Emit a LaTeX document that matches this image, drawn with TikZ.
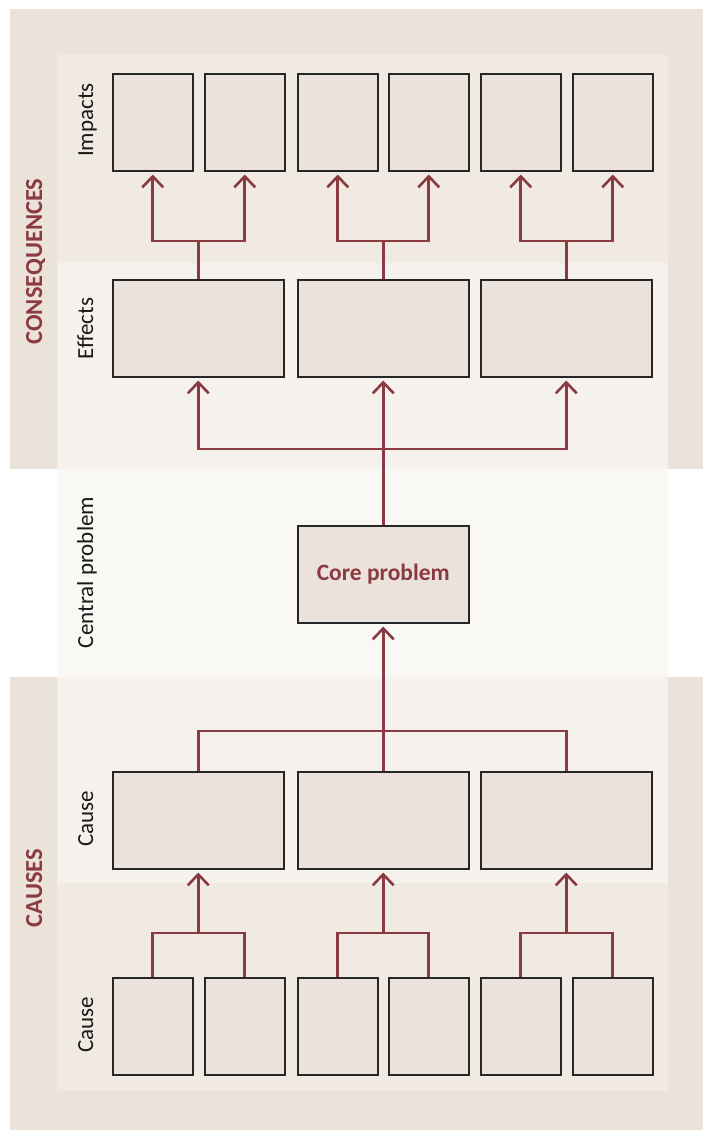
\documentclass[tikz,border=0pt]{standalone}
\usepackage{fontspec}
\setmainfont{Carlito}
\usetikzlibrary{arrows.meta}
\definecolor{bandout}{HTML}{EBE3DA}
\definecolor{bandA}{HTML}{F1EAE2}
\definecolor{bandB}{HTML}{F5F1EC}
\definecolor{bandC}{HTML}{F9F8F5}
\definecolor{boxfill}{HTML}{EBE3DB}
\definecolor{wine}{HTML}{8B3A42}
\begin{document}
\begin{tikzpicture}[x=1pt,y=-1pt,
  cell/.style={draw=black!85,line width=1.5pt,fill=boxfill,inner sep=0pt,anchor=north west},
  narrow/.style={cell,minimum width=80pt,minimum height=97pt},
  wide/.style={cell,minimum width=171pt,minimum height=97pt},
  conn/.style={draw=wine,line width=2.6pt},
  arr/.style={conn,-{Straight Barb[length=11pt,width=21pt,line width=2.6pt]},shorten >=3pt},
  rowlabel/.style={rotate=90,anchor=base,font=\fontsize{23}{27}\selectfont,text=black!90},
  grouplabel/.style={rotate=90,anchor=base,font=\bfseries\fontsize{24.5}{29}\selectfont,text=wine}]
% page
\fill[white] (0,0) rectangle (703,1130);
\useasboundingbox (0,0) rectangle (703,1130);
% background bands
\fill[bandout] (10,9) rectangle (703,469);
\fill[bandout] (10,677) rectangle (703,1130);
\fill[bandA] (57,55) rectangle (668,263);
\fill[bandB] (57,263) rectangle (668,469);
\fill[bandC] (57,469) rectangle (668,677);
\fill[bandB] (57,677) rectangle (668,883);
\fill[bandA] (57,883) rectangle (668,1091);
% group and row labels
\node[grouplabel] (gcons) at (42,261.5) {CONSEQUENCES};
\node[grouplabel] (gcaus) at (42,888) {CAUSES};
\node[rowlabel] (limp) at (93,120) {Impacts};
\node[rowlabel] (leff) at (93,328.5) {Effects};
\node[rowlabel] (lcen) at (93,572.5) {Central problem};
\node[rowlabel] (lca1) at (93,818.5) {Cause};
\node[rowlabel] (lca2) at (93,1024.5) {Cause};
% impacts
\node[narrow] (i1) at (112,73) {};
\node[narrow] (i2) at (204,73) {};
\node[narrow] (i3) at (297,73) {};
\node[narrow] (i4) at (388,73) {};
\node[narrow] (i5) at (480,73) {};
\node[narrow] (i6) at (572,73) {};
% effects
\node[wide] (e1) at (112,279) {};
\node[wide] (e2) at (297,279) {};
\node[wide] (e3) at (480,279) {};
% core problem
\node[wide] (core) at (297,525) {};
\node[font=\bfseries\fontsize{23.5}{28}\selectfont,text=wine] (coretext) at (core.center) {Core problem};
% causes
\node[wide] (c1) at (112,771) {};
\node[wide] (c2) at (297,771) {};
\node[wide] (c3) at (480,771) {};
% root causes
\node[narrow] (r1) at (112,977) {};
\node[narrow] (r2) at (204,977) {};
\node[narrow] (r3) at (297,977) {};
\node[narrow] (r4) at (388,977) {};
\node[narrow] (r5) at (480,977) {};
\node[narrow] (r6) at (572,977) {};
% junction points
\coordinate (ij1) at (e1.north |- 0,241);
\coordinate (ij2) at (e2.north |- 0,241);
\coordinate (ij3) at (e3.north |- 0,241);
\coordinate (ej) at (core.north |- 0,449);
\coordinate (cj) at (core.south |- 0,731);
\coordinate (rj1) at (c1.south |- 0,933);
\coordinate (rj2) at (c2.south |- 0,933);
\coordinate (rj3) at (c3.south |- 0,933);
% effects -> impacts
\draw[conn] (e1.north) -- (ij1);
\draw[conn] (e2.north) -- (ij2);
\draw[conn] (e3.north) -- (ij3);
\draw[arr] (ij1) -| (i1.south);
\draw[arr] (ij1) -| (i2.south);
\draw[arr] (ij2) -| (i3.south);
\draw[arr] (ij2) -| (i4.south);
\draw[arr] (ij3) -| (i5.south);
\draw[arr] (ij3) -| (i6.south);
% core -> effects
\draw[arr] (core.north) -- (e2.south);
\draw[arr] (ej) -| (e1.south);
\draw[arr] (ej) -| (e3.south);
% causes -> core
\draw[conn] (c1.north) |- (cj) -| (c3.north);
\draw[arr] (c2.north) -- (core.south);
% root causes -> causes
\draw[conn] (r1.north) |- (rj1) -| (r2.north);
\draw[conn] (r3.north) |- (rj2) -| (r4.north);
\draw[conn] (r5.north) |- (rj3) -| (r6.north);
\draw[arr] (rj1) -- (c1.south);
\draw[arr] (rj2) -- (c2.south);
\draw[arr] (rj3) -- (c3.south);
\end{tikzpicture}
\end{document}
